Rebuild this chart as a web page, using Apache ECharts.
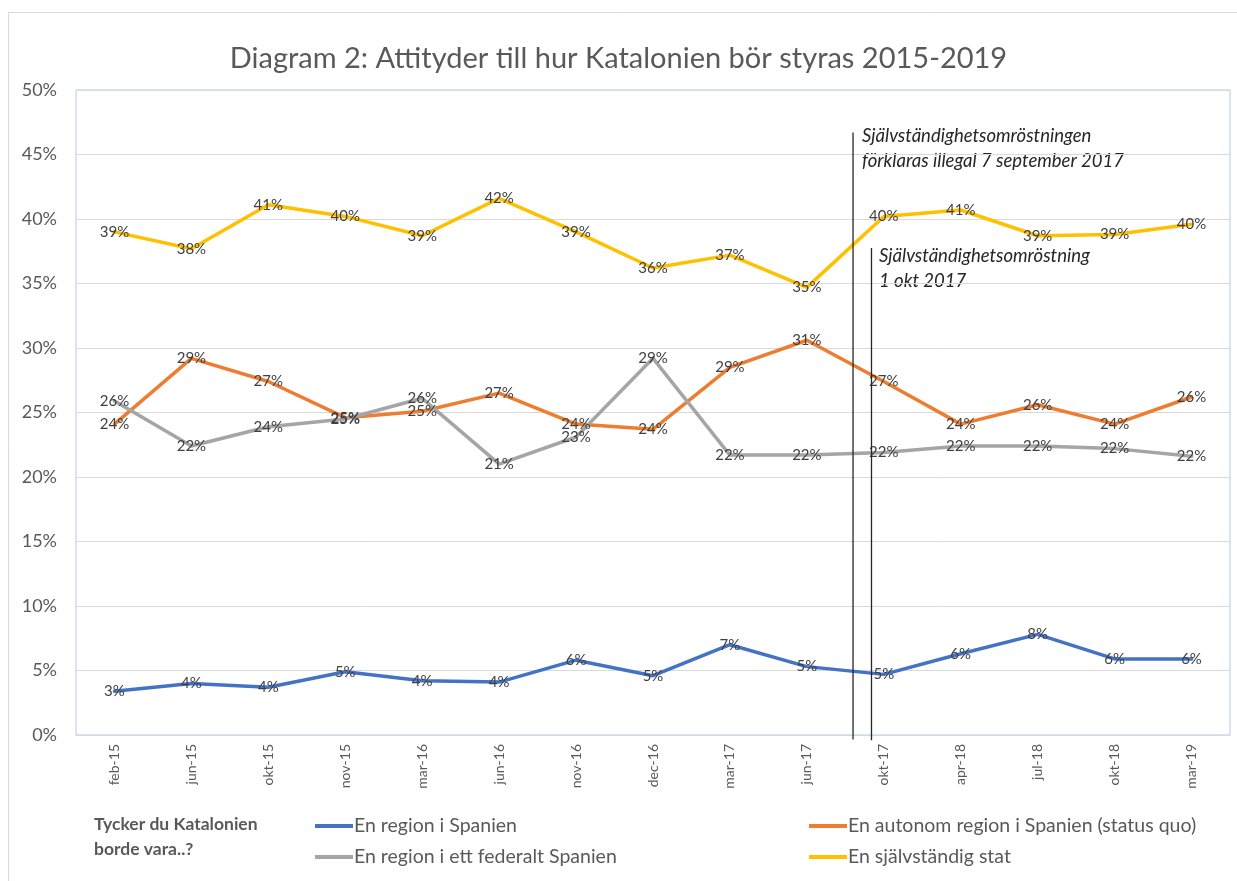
<!DOCTYPE html>
<html>
<head>
<meta charset="utf-8">
<title>Diagram 2</title>
<script src="https://cdn.jsdelivr.net/npm/echarts@6/dist/echarts.min.js"></script>
<style>
  html, body { margin: 0; padding: 0; background: #fff; }
  #chart { width: 1237px; height: 881px; }
</style>
</head>
<body>
<div id="chart"></div>
<script>
  // mätomgångar
  var categories = ['feb-15', 'jun-15', 'okt-15', 'nov-15', 'mar-16', 'jun-16', 'nov-16', 'dec-16',
    'mar-17', 'jun-17', 'okt-17', 'apr-18', 'jul-18', 'okt-18', 'mar-19']

  // andel i procent per alternativ
  var regionSpanien = [3.4, 4.0, 3.7, 4.9, 4.2, 4.1, 5.8, 4.6, 7.0, 5.3, 4.7, 6.3, 7.8, 5.9, 5.9]
  var autonomRegion = [24.1, 29.2, 27.4, 24.6, 25.1, 26.5, 24.1, 23.7, 28.5, 30.6, 27.4, 24.1, 25.6, 24.1, 26.2]
  var federaltSpanien = [25.9, 22.4, 23.9, 24.5, 26.1, 21.0, 23.1, 29.2, 21.7, 21.7, 21.9, 22.4, 22.4, 22.2, 21.6]
  var sjalvstandigStat = [39.0, 37.7, 41.1, 40.2, 38.7, 41.6, 39.0, 36.2, 37.2, 34.7, 40.2, 40.7, 38.7, 38.8, 39.6]

  var yTicks = [0, 5, 10, 15, 20, 25, 30, 35, 40, 45, 50]

  // händelser: position mellan kategorier (index), linjens övre och nedre ände i procent
  var events = [
    { x: 9.6, top: 46.7, bottom: -0.35, rows: ['Självständighetsomröstningen', 'förklaras illegal 7 september 2017'] },
    { x: 9.84, top: 37.75, bottom: -0.4, rows: ['Självständighetsomröstning', '1 okt 2017'] }
  ]

  var font = 'Lato, Carlito, "Open Sans", sans-serif'
  var textGrey = '#595959'

  function lineSeries (name, data, color) {
    return {
      name: name,
      type: 'line',
      data: data,
      symbol: 'circle',
      symbolSize: 1,
      showSymbol: true,
      smooth: false,
      lineStyle: { width: 3.5, color: color, cap: 'round', join: 'round' },
      itemStyle: { color: color, opacity: 0 },
      label: {
        show: true,
        position: 'inside',
        offset: [2, 0],
        fontFamily: font,
        fontSize: 15,
        color: '#404040',
        opacity: 1,
        formatter: function (p) { return Math.round(p.value) + '%' }
      },
      labelLayout: { hideOverlap: false },
      z: 3
    }
  }

  function eventSeries (e) {
    return {
      name: 'händelse',
      type: 'line',
      xAxisIndex: 1,
      data: [[e.x, e.top], [e.x, e.bottom]],
      symbol: 'none',
      clip: false,
      silent: true,
      lineStyle: { color: '#262626', width: 1.3 },
      z: 4
    }
  }

  function legendColumn (names, left) {
    return {
      data: names,
      orient: 'vertical',
      left: left,
      top: 811,
      itemGap: 11,
      itemWidth: 38,
      itemHeight: 4,
      icon: 'rect',
      itemStyle: { opacity: 1 },
      textStyle: { fontFamily: font, fontSize: 19.5, color: textGrey, padding: [0, 0, 0, -4] }
    }
  }

  var chart = echarts.init(document.getElementById('chart'))
  var option = {
    backgroundColor: '#fff',
    animation: false,
    title: [
      {
        text: 'Diagram 2: Attityder till hur Katalonien bör styras 2015-2019',
        left: 'center',
        top: 39,
        textStyle: { fontFamily: font, fontSize: 29, fontWeight: 'normal', color: textGrey }
      },
      {
        text: 'Tycker du Katalonien\nborde vara..?',
        left: 89,
        top: 807,
        textStyle: { fontFamily: font, fontSize: 17.5, fontWeight: 'bold', color: textGrey, lineHeight: 25 }
      }
    ],
    legend: [
      legendColumn(['En region i Spanien', 'En region i ett federalt Spanien'], 310),
      legendColumn(['En autonom region i Spanien (status quo)', 'En självständig stat'], 804)
    ],
    grid: {
      left: 76,
      right: 7,
      top: 90,
      bottom: 146,
      show: true,
      borderColor: '#b4c7e7',
      borderWidth: 1
    },
    xAxis: [
      {
        type: 'category',
        data: categories,
        boundaryGap: true,
        axisLine: { show: true, lineStyle: { color: '#d9d9d9', width: 1 } },
        axisTick: { show: false },
        axisLabel: { rotate: 90, margin: 9, fontFamily: font, fontSize: 14, color: textGrey }
      },
      {
        // dold axel för händelselinjerna
        type: 'value',
        min: -0.5,
        max: categories.length - 0.5,
        show: false
      }
    ],
    yAxis: {
      type: 'value',
      min: yTicks[0],
      max: yTicks[yTicks.length - 1],
      interval: 5,
      axisLine: { show: false },
      axisTick: { show: false },
      splitLine: { lineStyle: { color: '#d9d9d9', width: 1 } },
      axisLabel: {
        margin: 19,
        fontFamily: font,
        fontSize: 18,
        color: textGrey,
        formatter: '{value}%'
      }
    },
    graphic: [
      {
        type: 'rect',
        shape: { x: 8.5, y: 12.5, width: 1300, height: 1000 },
        style: { fill: 'none', stroke: '#d9d9d9', lineWidth: 1 },
        silent: true
      },
      {
        type: 'text',
        left: 862,
        top: 124,
        style: {
          text: events[0].rows.join('\n'),
          fontFamily: font,
          fontStyle: 'italic',
          fontSize: 18.5,
          lineHeight: 25,
          fill: '#262626'
        }
      },
      {
        type: 'text',
        left: 879,
        top: 244,
        style: {
          text: events[1].rows.join('\n'),
          fontFamily: font,
          fontStyle: 'italic',
          fontSize: 18.5,
          lineHeight: 25,
          fill: '#262626'
        }
      }
    ],
    series: [
      lineSeries('En region i Spanien', regionSpanien, '#4472c4'),
      lineSeries('En autonom region i Spanien (status quo)', autonomRegion, '#ed7d31'),
      lineSeries('En region i ett federalt Spanien', federaltSpanien, '#a5a5a5'),
      lineSeries('En självständig stat', sjalvstandigStat, '#ffc000'),
      eventSeries(events[0]),
      eventSeries(events[1])
    ]
  }
  chart.setOption(option)
  window.addEventListener('resize', () => {
    chart.resize()
  })
</script>
</body>
</html>
